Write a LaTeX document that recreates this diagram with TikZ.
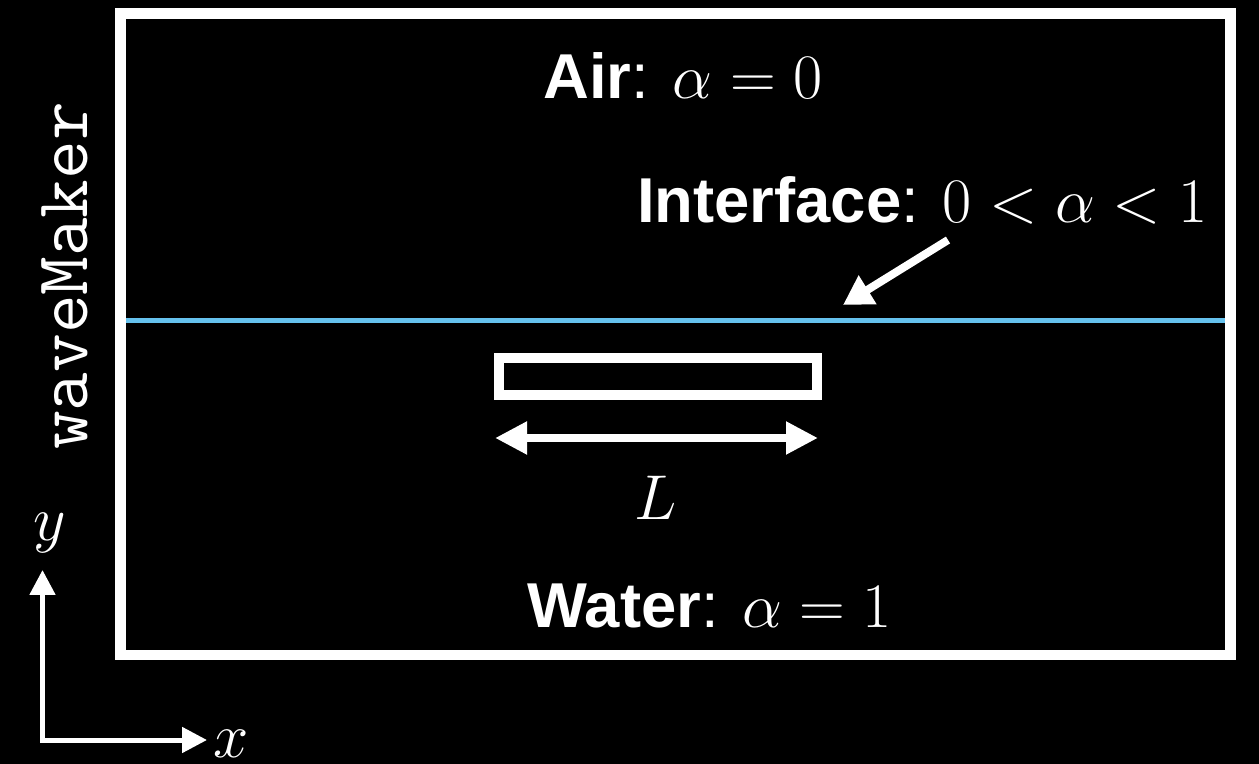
\RequirePackage{fix-cm}
\documentclass[tikz,border=0pt]{standalone}
\usepackage{fontspec}
\usepackage{tikz}
\usetikzlibrary{arrows.meta,positioning}

\newfontfamily\lbfont{Liberation Sans}
\definecolor{ifaceblue}{RGB}{102,194,238}

\begin{document}
\begin{tikzpicture}[
  x=0.5pt, y=-0.5pt,
  tankframe/.style={draw=white, line width=5.25pt, inner sep=0pt},
  txt/.style={text=white, inner sep=0pt, font=\fontsize{31.7}{38}\selectfont\lbfont},
  fat/.style={white, line width=4pt},
  axis/.style={white, line width=2.5pt, line join=miter},
]
  % background and page size
  \useasboundingbox (0,0) rectangle (1259,764);
  \fill[black] (0,0) rectangle (1259,764);

  % free surface
  \draw[ifaceblue, line width=2.4pt] (126,320.5) -- (1225,320.5);

  % numerical tank
  \node[tankframe, minimum width=555pt, minimum height=320.75pt] (tank) at (675.5,334.25) {};

  % floating body
  \node[draw=white, line width=5pt, minimum width=159.25pt, minimum height=18.5pt,
        inner sep=0pt] (body) at (657.75,376.5) {};

  % phase labels
  \node[txt, anchor=base west] (air) at (543,99) {\textbf{Air}: $\alpha = 0$};
  \node[txt, anchor=base east] (iface) at (1208,223) {\textbf{Interface}: $0 < \alpha < 1$};
  \node[txt, anchor=base west] (water) at (527,627) {\textbf{Water}: $\alpha = 1$};

  % pointer to the interface
  \coordinate (ptail) at (948,240);
  \coordinate (ptip) at (843,305);
  \draw[fat, -{Triangle[length=14.5pt,width=16pt]}] (ptail) -- (ptip);

  % body length
  \coordinate (lenL) at (495,438);
  \coordinate (lenR) at (818,438);
  \draw[fat, {Triangle[length=16pt,width=15.5pt]}-{Triangle[length=16pt,width=15.5pt]}] (lenL) -- (lenR);
  \node[txt] (len) at (656,497.5) {$L$};

  % wave maker side
  \node[text=white, inner sep=0pt, rotate=90, anchor=base,
        font=\fontsize{37.5}{42}\selectfont\ttfamily] (wavemaker) at (87,276) {waveMaker};

  % axes
  \coordinate (origin) at (42.5,740);
  \coordinate (ytip) at (42.5,570);
  \coordinate (xtip) at (207,740);
  \draw[axis, {Triangle[length=12.5pt,width=12.5pt]}-{Triangle[length=12.5pt,width=12.5pt]}]
    (ytip) -- (origin) -- (xtip);
  \node[txt] (ylab) at (50,533.5) {$y$};
  \node[txt] (xlab) at (231,743.5) {$x$};
\end{tikzpicture}
\end{document}
